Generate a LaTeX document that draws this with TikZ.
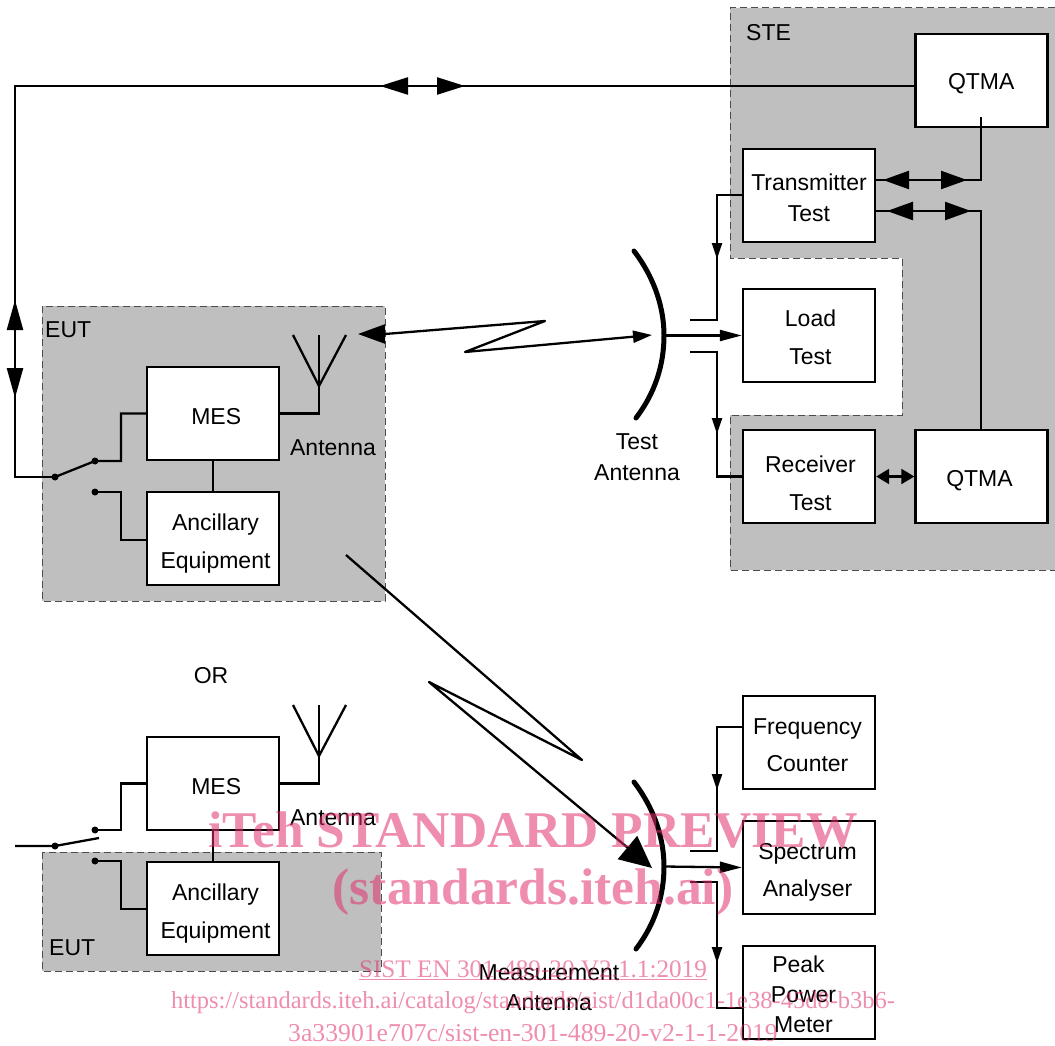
\documentclass[tikz,border=0pt]{standalone}
\usepackage{fontspec}
\setmainfont{Liberation Sans}
\newfontfamily\wmfont{Liberation Serif}
\usetikzlibrary{arrows.meta}
\definecolor{panelgray}{HTML}{BFBFBF}
\definecolor{wmpink}{HTML}{E03070}
\newcommand\bt[3]{\raisebox{#2pt}[0pt][0pt]{\hspace{#1pt}\makebox[0pt]{\begin{tabular}{@{}c@{}}#3\end{tabular}}}}
\tikzset{
  box/.style={draw=black,fill=white,line width=2.4pt,minimum width=132pt,minimum height=93pt,inner sep=0pt},
  lbl/.style={inner sep=0pt,text=black},
  wire/.style={draw=black,line width=2.3pt},
  panel/.style={fill=panelgray,draw=black!70,line width=1pt,dash pattern=on 7pt off 4pt},
  dish/.style={draw=black,line width=5pt,line cap=round},
  dot/.style={circle,fill=black,draw=none,minimum size=7pt,inner sep=0pt},
  tipS/.style={wire,-{Triangle[length=16pt,width=10pt]}},
  tipL/.style={wire,-{Triangle[length=22pt,width=11pt]}},
  tipM/.style={wire,-{Triangle[length=26pt,width=18pt]}},
  tipB/.style={wire,-{Triangle[length=28pt,width=17pt]}},
  tipV/.style={wire,-{Triangle[length=30pt,width=16pt]}},
  tipE/.style={wire,-{Triangle[length=27pt,width=19pt]}},
  tipD/.style={wire,{Triangle[length=13pt,width=15pt]}-{Triangle[length=13pt,width=15pt]}},
  tipZ/.style={wire,line join=round,-{Triangle[length=19pt,width=12pt]}},
  tipH/.style={wire,line join=round,-{Triangle[length=32pt,width=30pt]}},
  wmbig/.style={inner sep=0pt,text=wmpink,text opacity=.55,font=\wmfont\bfseries\fontsize{51.5}{51.5}\selectfont},
  wmsmall/.style={inner sep=0pt,text=wmpink,text opacity=.55,font=\wmfont\fontsize{24.5}{24.5}\selectfont},
  every node/.append style={font=\fontsize{23}{23}\selectfont}
}
\begin{document}
\begin{tikzpicture}[x=1pt,y=-1pt]
\useasboundingbox (0,0) rectangle (1055,1046);
% panels
\path[panel] (1055,8) -- (730,8) -- (730,258) -- (902,258) -- (902,415) -- (730,415) -- (730,570) -- (1055,570);
\path[panel] (42,306) rectangle (385,601);
\path[panel] (42,852) rectangle (381,971);
% named connector coordinates
\coordinate (topL) at (15,86);
\coordinate (swL) at (15,477);
\coordinate (s1a) at (380,86); \coordinate (s1b) at (408,86);
\coordinate (s2a) at (437,86); \coordinate (s2b) at (465,86);
\coordinate (v1a) at (15,331); \coordinate (v1b) at (15,300);
\coordinate (v2a) at (15,368); \coordinate (v2b) at (15,398);
% boxes
\node[box] (qt1) at (981.5,80.5) {\bt{-0.5}{-11}{QTMA}};
\node[box] (tx) at (809,195.5) {\bt{0}{-12}{Transmitter\\[8pt]Test}};
\node[box] (load) at (809,335.5) {\bt{3}{-11.5}{Load\\[15pt]Test}};
\node[box] (rx) at (809,476.5) {\bt{3}{-16.5}{Receiver\\[15pt]Test}};
\node[box] (qt2) at (981.5,476.5) {\bt{-4}{-11.5}{QTMA}};
\node[box] (mes1) at (213,413.5) {\bt{6.5}{-12.5}{MES}};
\node[box] (anc1) at (213,538.5) {\bt{5}{-12.5}{Ancillary\\[15pt]Equipment}};
\node[box] (mes2) at (213,783.5) {\bt{6.5}{-12.5}{MES}};
\node[box] (anc2) at (213,908.5) {\bt{5}{-12.5}{Ancillary\\[15pt]Equipment}};
\node[box] (freq) at (809,742.5) {\bt{-3}{-12}{Frequency\\[14pt]Counter}};
\node[box] (spec) at (809,867.5) {\bt{-3}{-12}{Spectrum\\[14pt]Analyser}};
\node[box] (peak) at (809,992.5) {\bt{-11}{-11}{Peak\kern10pt\\[7pt]Power\\[7pt]Meter}};
% labels
\node[lbl,anchor=west] (steL) at (746,33) {STE};
\node[lbl,anchor=west] (eutL1) at (45,330) {EUT};
\node[lbl,anchor=west] (eutL2) at (49,948) {EUT};
\node[lbl] (antL1) at (333,447.5) {Antenna};
\node[lbl] (antL2) at (333,817.5) {Antenna};
\node[lbl] (orL) at (211,675.5) {OR};
\node[lbl] (testA1) at (637,441.5) {Test};
\node[lbl] (testA2) at (637,472.5) {Antenna};
\node[lbl] (measA1) at (549,972.5) {Measurement};
\node[lbl] (measA2) at (549,1002.5) {Antenna};
% top link
\draw[wire] (qt1.west |- topL) -- (topL) -- (swL) -- (55,477);
\draw[tipB] (s1b) -- (s1a);
\draw[tipB] (s2a) -- (s2b);
\draw[tipV] (v1a) -- (v1b);
\draw[tipV] (v2a) -- (v2b);
% upper EUT
\node[dot] (p1) at (55,477) {};
\node[dot] (p2) at (95,461) {};
\node[dot] (p3) at (95,492) {};
\draw[wire] (p1.center) -- (p2.center) -- (121,461) |- (mes1.west);
\draw[wire] (p3.center) -- (121,492) |- (anc1.west |- 0,540);
\draw[wire] (mes1.south) -- (anc1.north);
\draw[wire] (mes1.east) -| (319,335);
\draw[wire] (293,335) -- (319,386) -- (346,335);
% lower EUT
\node[dot] (q1) at (55,846) {};
\node[dot] (q2) at (95,830) {};
\node[dot] (q3) at (95,861) {};
\coordinate (bladeL) at (15,846);
\coordinate (bladeR) at (99,838);
\draw[wire] (bladeL) -- (q1.center) -- (bladeR);
\draw[wire] (q2.center) -- (121,830) |- (mes2.west);
\draw[wire] (q3.center) -- (121,861) |- (anc2.west |- 0,909);
\draw[wire] (mes2.south) -- (anc2.north);
\draw[wire] (mes2.east) -| (319,705);
\draw[wire] (293,705) -- (319,756) -- (346,705);
% test antenna
\coordinate (dA) at (664,335.5);
\coordinate (dB) at (664,866.5);
\draw[dish] (634,251) .. controls (656,280) and (664,310) .. (dA) .. controls (664,365) and (655,393) .. (636,418);
\draw[dish] (634,782) .. controls (656,811) and (664,841) .. (dB) .. controls (664,896) and (655,924) .. (636,949);
% radio links
\coordinate (r0) at (385,334);
\coordinate (r1) at (358,334);
\draw[tipE] (r0) -- (r1);
\coordinate (tipA) at (652,335);
\draw[tipZ] (r0) -- (545,321) -- (465,352) -- (tipA);
\coordinate (tipB) at (652,868);
\draw[tipH] (346,555) -- (582,760) -- (429,682) -- (tipB);
% test antenna feeds
\draw[tipL] (dA) -- (load.west);
\draw[wire] (690,320) -- (717,320) |- (tx.west |- 0,195);
\coordinate (a1b) at (717,243); \coordinate (a1t) at (717,259);
\draw[tipS] (a1b) -- (a1t);
\draw[wire] (690,352) -- (717,352) |- (rx.west);
\coordinate (a2b) at (717,418); \coordinate (a2t) at (717,434);
\draw[tipS] (a2b) -- (a2t);
% STE links
\coordinate (qin) at (981,117);
\draw[wire] (tx.east |- 0,180) -- (981,180) -- (qin);
\draw[wire] (tx.east |- 0,211) -- (981,211) -- (981,430);
\coordinate (b1a) at (909,180); \coordinate (b1b) at (883,180);
\coordinate (b2a) at (941,180); \coordinate (b2b) at (967,180);
\coordinate (b3a) at (913,211); \coordinate (b3b) at (887,211);
\coordinate (b4a) at (945,211); \coordinate (b4b) at (971,211);
\draw[tipM] (b1a) -- (b1b);
\draw[tipM] (b2a) -- (b2b);
\draw[tipM] (b3a) -- (b3b);
\draw[tipM] (b4a) -- (b4b);
\draw[tipD] (rx.east) -- (qt2.west);
% measurement antenna feeds
\draw[tipL] (dB) -- (spec.west);
\draw[wire] (690,851) -- (717,851) |- (freq.west |- 0,727);
\coordinate (c1b) at (717,774); \coordinate (c1t) at (717,790);
\draw[tipS] (c1b) -- (c1t);
\draw[wire] (690,882) -- (717,882) |- (peak.west |- 0,1008);
\coordinate (c2b) at (717,947); \coordinate (c2t) at (717,963);
\draw[tipS] (c2b) -- (c2t);
% watermark
\node[wmbig] (wm1) at (533,830) {iTeh STANDARD PREVIEW};
\node[wmbig] (wm2) at (533,892) {(standards.iteh.ai)};
\node[wmsmall,font=\wmfont\fontsize{25.2}{25.2}\selectfont] (wm3) at (533,970) {\underline{SIST EN 301-489-20 V2.1.1:2019}};
\node[wmsmall] (wm4) at (533,1003) {https://standards.iteh.ai/catalog/standards/sist/d1da00c1-1e38-45d8-b3b6-};
\node[wmsmall,font=\wmfont\fontsize{25.7}{25.7}\selectfont] (wm5) at (533,1033) {3a33901e707c/sist-en-301-489-20-v2-1-1-2019};
\end{tikzpicture}
\end{document}
